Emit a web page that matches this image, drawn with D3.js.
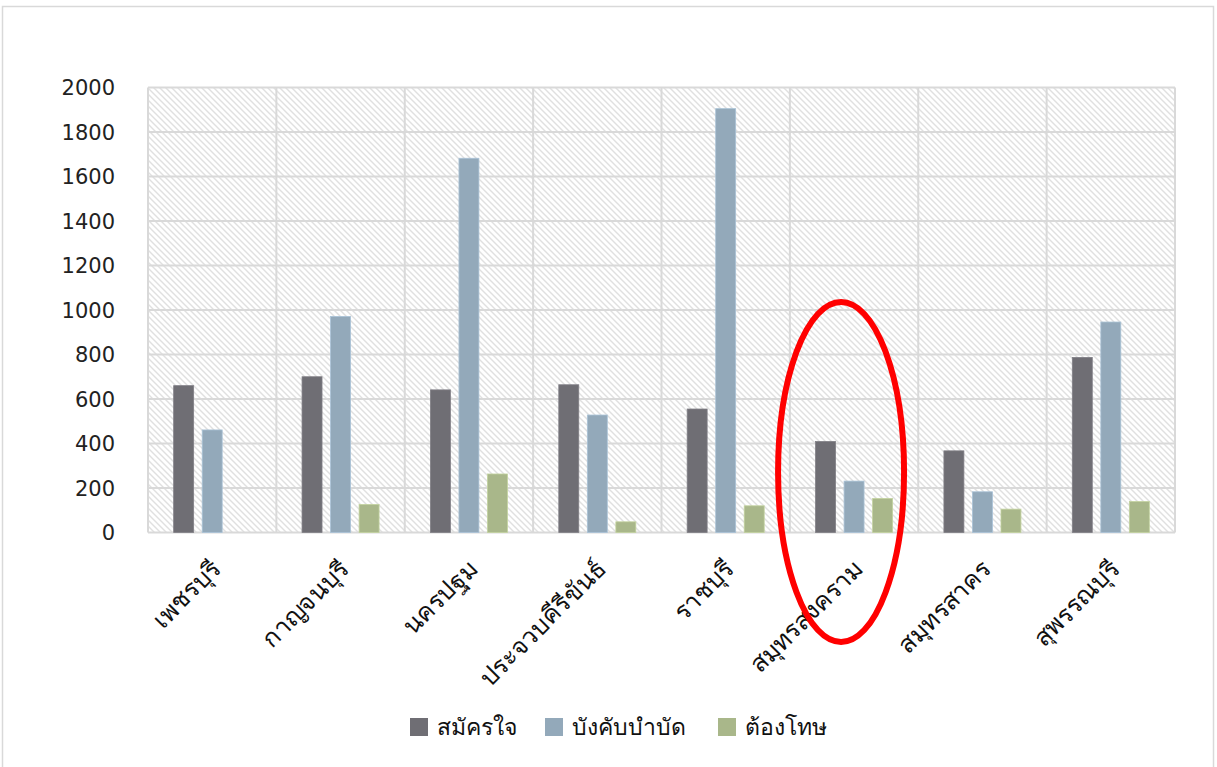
<!DOCTYPE html>
<html>
<head>
<meta charset="utf-8">
<script src="https://cdn.jsdelivr.net/npm/d3@7"></script>
<style>
  html, body { margin: 0; padding: 0; background: #fff; }
  svg { display: block; }
</style>
</head>
<body>
<svg id="chart" width="1217" height="767"></svg>
<script>
const categories = ["เพชรบุรี", "กาญจนบุรี", "นครปฐม", "ประจวบคีรีขันธ์", "ราชบุรี", "สมุทรสงคราม", "สมุทรสาคร", "สุพรรณบุรี"];
const seriesNames = ["สมัครใจ", "บังคับบำบัด", "ต้องโทษ"];
const voluntary = [660, 700, 641, 664, 555, 409, 367, 787];
const compulsory = [461, 971, 1682, 528, 1905, 231, 183, 946];
const convicted = [0, 126, 263, 48, 120, 153, 105, 139];
const yTicks = [0, 200, 400, 600, 800, 1000, 1200, 1400, 1600, 1800, 2000];
const colors = ["#6f6e74", "#93a9ba", "#a9b78a"];

const seriesValues = [voluntary, compulsory, convicted];
const data = categories.map((c, i) => ({cat: c, vals: seriesNames.map((s, j) => ({s, j, v: seriesValues[j][i]}))}));

const svg = d3.select("#chart");
const L = 148, R = 1175, T = 87.5, B = 532.5;
const font = "'DejaVu Sans', 'Noto Sans', sans-serif";

// outer frame
svg.append("rect").attr("x", 2.5).attr("y", 6.5).attr("width", 1211).attr("height", 775)
  .attr("fill", "#fff").attr("stroke", "#d9d9d9").attr("stroke-width", 1.5);

// hatch pattern
const defs = svg.append("defs");
const pat = defs.append("pattern").attr("id", "hatch").attr("patternUnits", "userSpaceOnUse")
  .attr("width", 6).attr("height", 6);
pat.append("rect").attr("width", 6).attr("height", 6).attr("fill", "#ffffff");
pat.append("path").attr("d", "M-1,-1 L7,7 M-1,5 L1,7 M5,-1 L7,1")
  .attr("stroke", "#e0e0e0").attr("stroke-width", 1.4);

const x0 = d3.scaleBand().domain(categories).range([L, R]).paddingInner(0).paddingOuter(0);
const bw = x0.bandwidth();
const gpad = bw * 0.2;
const x1 = d3.scaleBand().domain(seriesNames).range([gpad, bw - gpad]).paddingInner(0.3).paddingOuter(0);
const y = d3.scaleLinear().domain([0, 2000]).range([B, T]);

// plot background
svg.append("rect").attr("x", L).attr("y", T).attr("width", R - L).attr("height", B - T).attr("fill", "url(#hatch)");

// horizontal grid
svg.append("g").selectAll("line").data(yTicks).join("line")
  .attr("x1", L).attr("x2", R).attr("y1", d => y(d)).attr("y2", d => y(d))
  .attr("stroke", "#d9d9d9").attr("stroke-width", 2);

// vertical grid at category boundaries
const bounds = categories.map(c => x0(c)).concat([R]);
svg.append("g").selectAll("line").data(bounds).join("line")
  .attr("x1", d => d).attr("x2", d => d).attr("y1", T).attr("y2", B)
  .attr("stroke", "#d9d9d9").attr("stroke-width", 2);

// bars
const g = svg.append("g").selectAll("g").data(data).join("g")
  .attr("transform", d => `translate(${x0(d.cat)},0)`);
g.selectAll("rect").data(d => d.vals.filter(v => v.v > 0)).join("rect")
  .attr("x", d => x1(d.s)).attr("width", x1.bandwidth())
  .attr("y", d => y(d.v)).attr("height", d => y(0) - y(d.v))
  .attr("fill", d => colors[d.j])
  .attr("stroke", d => d3.color(colors[d.j]).brighter(0.4)).attr("stroke-width", 0.8);

// y axis labels
const yAxis = d3.axisLeft(y).tickValues(yTicks).tickFormat(d3.format("d")).tickSize(0).tickPadding(33);
const ya = svg.append("g").attr("transform", `translate(${L},0)`).call(yAxis);
ya.select(".domain").remove();
ya.selectAll("text").attr("font-family", font).attr("font-size", 21).attr("fill", "#222").attr("dy", "0.35em");

// x labels
const xAxis = d3.axisBottom(x0).tickSize(0).tickPadding(0);
const xa = svg.append("g").attr("transform", `translate(0,${B})`).call(xAxis);
xa.select(".domain").remove();
xa.selectAll(".tick text")
  .attr("font-family", font).attr("font-size", 25).attr("font-weight", 300).attr("fill", "#111")
  .attr("text-anchor", "end").attr("dy", 0).attr("y", 0)
  .attr("transform", "translate(10,38) rotate(-45)");

// legend
const legX = [410, 545, 718];
const leg = svg.append("g").selectAll("g").data(seriesNames).join("g")
  .attr("transform", (d, i) => `translate(${legX[i]},718)`);
leg.append("rect").attr("width", 18).attr("height", 18).attr("fill", (d, i) => colors[i]);
leg.append("text").attr("x", 27).attr("y", 9).attr("dy", "0.35em")
  .attr("font-family", font).attr("font-size", 23).attr("fill", "#111").text(d => d);

// red annotation ellipse around สมุทรสงคราม
const cx = x0("สมุทรสงคราม") + bw / 2 - 13;
svg.append("ellipse").attr("cx", cx).attr("cy", 472).attr("rx", 63).attr("ry", 170)
  .attr("fill", "none").attr("stroke", "#ff0000").attr("stroke-width", 6);
</script>
</body>
</html>
